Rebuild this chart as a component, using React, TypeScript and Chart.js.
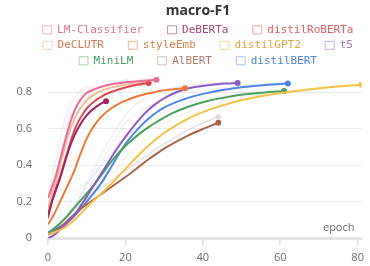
import React, { useEffect, useRef } from "react";
import { Chart, registerables } from "chart.js";

Chart.register(...registerables);

const chartTitle = "macro-F1";
const xAxisTitle = "epoch";
const xTickValues = [0, 20, 40, 60, 80];
const yTickValues = [0, 0.2, 0.4, 0.6, 0.8];

const seriesNames = ["LM-Classifier", "DeBERTa", "distilRoBERTa", "DeCLUTR", "styleEmb", "distilGPT2", "t5", "MiniLM", "AlBERT", "distilBERT"];
const lineColors = ["#ec6c96", "#a3245e", "#e1474f", "#f6bb9c", "#ef7a38", "#f3c246", "#8c5ac8", "#4ba25d", "#a8664f", "#4d85e8"];
const textColors = ["#e36f95", "#a8437a", "#dd5a62", "#d47a56", "#d9804a", "#e2a43a", "#9b74c8", "#4f9a61", "#a67b6a", "#4f82d9"];
const boxColors = ["#f2b3c8", "#c88aab", "#f0a6aa", "#f5d0c0", "#f0b88f", "#f5d990", "#c5b0e3", "#a6d3ae", "#d7bfb4", "#a9c4f2"];
const legendGap = "   ";

// smoothed series
const lmX = [0, 1, 2, 3, 4, 5, 6, 7, 8, 9, 10, 12, 14, 17, 20, 24, 28];
const lmY = [0.22, 0.28, 0.34, 0.42, 0.5, 0.58, 0.65, 0.705, 0.745, 0.775, 0.795, 0.815, 0.83, 0.845, 0.853, 0.86, 0.867];
const debertaX = [0, 1, 2, 3, 4, 5, 6, 7, 8, 9, 10, 11, 12, 13, 14, 15];
const debertaY = [0.13, 0.2, 0.26, 0.32, 0.39, 0.46, 0.52, 0.57, 0.61, 0.645, 0.672, 0.695, 0.712, 0.727, 0.74, 0.75];
const robertaX = [0, 1, 2, 3, 4, 5, 6, 7, 8, 9, 10, 12, 14, 17, 20, 23, 26];
const robertaY = [0.11, 0.2, 0.27, 0.33, 0.4, 0.47, 0.54, 0.6, 0.645, 0.68, 0.71, 0.75, 0.778, 0.805, 0.825, 0.84, 0.85];
const declutrX = [0, 1, 2, 3, 4, 5, 6, 7, 8, 10, 12, 14, 17, 20, 24];
const declutrY = [0.16, 0.24, 0.31, 0.39, 0.47, 0.55, 0.61, 0.66, 0.7, 0.755, 0.787, 0.808, 0.828, 0.84, 0.848];
const styleX = [0, 1, 2, 3, 4, 5, 6, 7, 8, 9, 10, 11, 12, 13, 14, 16, 18, 20, 22, 24, 26, 28, 30, 33, 35.4];
const styleY = [0.075, 0.11, 0.15, 0.195, 0.24, 0.285, 0.33, 0.38, 0.44, 0.495, 0.545, 0.585, 0.618, 0.646, 0.67, 0.706, 0.733, 0.753, 0.769, 0.782, 0.793, 0.802, 0.809, 0.816, 0.82];
const gpt2X = [0, 2, 4, 6, 8, 10, 12, 14, 16, 18, 20, 22, 24, 26, 28, 30, 32, 35, 38, 41, 44, 47, 50, 53, 56, 59, 62, 66, 70, 74, 78, 81];
const gpt2Y = [0.02, 0.035, 0.055, 0.085, 0.125, 0.17, 0.21, 0.25, 0.29, 0.335, 0.38, 0.425, 0.468, 0.508, 0.543, 0.576, 0.604, 0.641, 0.672, 0.698, 0.72, 0.739, 0.755, 0.769, 0.781, 0.791, 0.8, 0.81, 0.82, 0.829, 0.836, 0.84];
const t5X = [0, 1, 2, 3, 4, 5, 6, 7, 8, 9, 10, 12, 14, 16, 18, 20, 22, 24, 26, 28, 30, 32, 35, 38, 42, 46, 49];
const t5Y = [0, 0.01, 0.025, 0.045, 0.065, 0.085, 0.107, 0.133, 0.163, 0.195, 0.228, 0.295, 0.362, 0.43, 0.495, 0.555, 0.61, 0.66, 0.703, 0.738, 0.766, 0.788, 0.812, 0.827, 0.839, 0.846, 0.849];
const miniX = [0, 2, 4, 6, 8, 10, 12, 14, 16, 18, 20, 22, 24, 26, 28, 30, 32, 35, 38, 41, 44, 47, 50, 53, 56, 59, 61];
const miniY = [0.03, 0.06, 0.1, 0.148, 0.197, 0.245, 0.295, 0.352, 0.41, 0.462, 0.505, 0.543, 0.578, 0.608, 0.635, 0.66, 0.683, 0.71, 0.732, 0.75, 0.764, 0.775, 0.785, 0.792, 0.798, 0.803, 0.805];
const albertX = [0, 2, 4, 6, 8, 10, 12, 14, 16, 18, 20, 22, 24, 26, 28, 30, 32, 34, 36, 38, 40, 42, 44];
const albertY = [0.02, 0.04, 0.075, 0.115, 0.155, 0.185, 0.215, 0.245, 0.275, 0.305, 0.335, 0.367, 0.4, 0.432, 0.462, 0.49, 0.515, 0.538, 0.56, 0.58, 0.598, 0.615, 0.632];
const bertX = [0, 2, 4, 6, 8, 10, 12, 14, 16, 18, 20, 22, 24, 26, 28, 30, 32, 35, 38, 41, 44, 47, 50, 53, 56, 59, 62];
const bertY = [0.03, 0.05, 0.075, 0.105, 0.15, 0.2, 0.252, 0.31, 0.378, 0.45, 0.515, 0.568, 0.615, 0.655, 0.688, 0.714, 0.735, 0.76, 0.779, 0.794, 0.807, 0.817, 0.826, 0.833, 0.839, 0.843, 0.847];

// faint raw series
const lmRawX = [0, 1, 2, 3, 4, 5, 6, 7, 8, 9, 10, 11, 12, 14, 16, 18, 20, 22, 24, 26, 28];
const lmRawY = [0.25, 0.33, 0.42, 0.53, 0.62, 0.7, 0.74, 0.77, 0.8, 0.81, 0.83, 0.82, 0.84, 0.85, 0.86, 0.85, 0.87, 0.86, 0.87, 0.87, 0.87];
const robertaRawX = [0, 1, 2, 3, 4, 5, 6, 7, 8, 9, 10, 12, 14, 16, 18, 20, 22, 24, 26];
const robertaRawY = [0.13, 0.27, 0.35, 0.42, 0.52, 0.61, 0.68, 0.71, 0.74, 0.75, 0.77, 0.79, 0.81, 0.82, 0.83, 0.84, 0.845, 0.85, 0.855];
const bertRawX = [0, 2, 4, 6, 8, 10, 12, 14, 16, 18, 20, 22, 24, 26, 28, 30, 33, 36, 40, 44, 48, 52, 56, 62];
const bertRawY = [0.03, 0.06, 0.1, 0.14, 0.22, 0.29, 0.35, 0.42, 0.5, 0.57, 0.63, 0.67, 0.7, 0.72, 0.74, 0.76, 0.78, 0.8, 0.81, 0.82, 0.83, 0.84, 0.845, 0.85];
const t5RawX = [0, 2, 4, 6, 8, 10, 12, 14, 16, 18, 20, 22, 24, 26, 28, 30, 34, 38, 44, 49];
const t5RawY = [0, 0.03, 0.08, 0.14, 0.22, 0.3, 0.38, 0.46, 0.54, 0.61, 0.67, 0.72, 0.75, 0.78, 0.8, 0.815, 0.83, 0.84, 0.85, 0.85];
const miniRawX = [0, 4, 8, 12, 16, 20, 24, 28, 32, 36, 40, 45, 50, 55, 61];
const miniRawY = [0.04, 0.14, 0.26, 0.35, 0.46, 0.55, 0.62, 0.67, 0.71, 0.74, 0.76, 0.78, 0.795, 0.8, 0.81];
const gpt2RawX = [0, 5, 10, 15, 20, 25, 30, 35, 40, 45, 50, 55, 60, 65, 70, 75, 81];
const gpt2RawY = [0.03, 0.1, 0.22, 0.32, 0.44, 0.53, 0.62, 0.68, 0.72, 0.75, 0.77, 0.79, 0.8, 0.815, 0.825, 0.835, 0.84];
const albertRawX = [0, 4, 8, 12, 16, 20, 24, 28, 32, 36, 40, 44];
const albertRawY = [0.03, 0.1, 0.18, 0.25, 0.31, 0.37, 0.43, 0.49, 0.54, 0.59, 0.63, 0.665];

const mainXs = [lmX, debertaX, robertaX, declutrX, styleX, gpt2X, t5X, miniX, albertX, bertX];
const mainYs = [lmY, debertaY, robertaY, declutrY, styleY, gpt2Y, t5Y, miniY, albertY, bertY];
const rawXs = [lmRawX, robertaRawX, bertRawX, t5RawX, miniRawX, gpt2RawX, albertRawX];
const rawYs = [lmRawY, robertaRawY, bertRawY, t5RawY, miniRawY, gpt2RawY, albertRawY];
const rawColors = ["rgba(236,108,150,0.13)", "rgba(225,71,79,0.1)", "rgba(120,150,210,0.12)", "rgba(140,90,200,0.1)", "rgba(120,170,150,0.1)", "rgba(243,194,70,0.12)", "rgba(190,170,165,0.35)"];
const rawDots = [false, false, false, false, false, false, true];

const pairs = (xs: number[], ys: number[]) => xs.map((x, i) => ({ x, y: ys[i] }));

export default function App() {
  const ref = useRef<HTMLCanvasElement | null>(null);
  useEffect(() => {
    const canvas = ref.current!;
    const endRadius = (r: number) => (ctx: any) => (ctx.dataIndex === ctx.dataset.data.length - 1 ? r : 0);
    const mainSets = seriesNames.map((name, i) => ({
      label: name,
      data: pairs(mainXs[i], mainYs[i]),
      borderColor: lineColors[i],
      backgroundColor: lineColors[i],
      borderWidth: 2,
      pointRadius: endRadius(3),
      pointBorderWidth: 0,
      cubicInterpolationMode: "monotone" as const,
      fill: false,
    }));
    const rawSets = rawXs.map((xs, i) => ({
      label: "raw" + i,
      data: pairs(xs, rawYs[i]),
      borderColor: rawColors[i],
      backgroundColor: rawColors[i],
      borderWidth: 1.5,
      pointRadius: rawDots[i] ? endRadius(3) : 0,
      pointBorderWidth: 0,
      cubicInterpolationMode: "monotone" as const,
      fill: false,
    }));

    const legendFont = { family: '"DejaVu Sans Mono", monospace', size: 11 };
    const adjusted = new WeakSet<object>();
    const legendCenterPlugin = {
      id: "legendCenter",
      beforeDraw(chart: any) {
        const lg = chart.legend;
        if (!lg || !lg.lineWidths || adjusted.has(lg.lineWidths)) return;
        const c = chart.ctx;
        c.save();
        c.font = `${legendFont.size}px ${legendFont.family}`;
        const gapW = c.measureText(legendGap).width;
        c.restore();
        lg.lineWidths = lg.lineWidths.map((w: number) => w - gapW);
        adjusted.add(lg.lineWidths);
      },
    };

    const epochPlugin = {
      id: "epochLabel",
      afterDraw(chart: any) {
        const { ctx, chartArea } = chart;
        ctx.save();
        ctx.font = '11px "Open Sans"';
        ctx.fillStyle = "#6b6b76";
        ctx.textAlign = "right";
        ctx.textBaseline = "middle";
        ctx.fillText(xAxisTitle, chartArea.right - 7, chartArea.bottom - 10.5);
        ctx.restore();
      },
    };

    const chart = new Chart(canvas, {
      type: "line",
      data: { datasets: [...mainSets, ...rawSets] as any },
      plugins: [legendCenterPlugin, epochPlugin],
      options: {
        responsive: false,
        animation: false,
        layout: { padding: 0 },
        plugins: {
          tooltip: { enabled: false },
          title: {
            display: true,
            text: chartTitle,
            color: "#333",
            font: { family: '"Open Sans", sans-serif', size: 14, weight: "bold" },
            padding: { top: 3, bottom: 0 },
          },
          legend: {
            display: true,
            position: "top",
            labels: {
              font: legendFont,
              boxWidth: 9,
              boxHeight: 8,
              padding: 4.5,
              generateLabels: () =>
                seriesNames.map((name, i) => ({
                  text: name + legendGap,
                  fillStyle: "rgba(0,0,0,0)",
                  strokeStyle: boxColors[i],
                  fontColor: textColors[i],
                  lineWidth: 1,
                  hidden: false,
                  datasetIndex: i,
                })),
            },
          },
        },
        scales: {
          x: {
            type: "linear",
            min: 0,
            max: 81,
            afterBuildTicks: (s: any) => {
              s.ticks = xTickValues.map((v) => ({ value: v }));
            },
            afterFit: (s: any) => {
              s.height = 27.7;
            },
            grid: { drawOnChartArea: false, drawTicks: true, tickLength: 7, color: "#dedede", lineWidth: 1.5 },
            border: { display: true, color: "#e4e4e4", width: 3 },
            ticks: { color: "#6b6b76", font: { family: '"Open Sans", sans-serif', size: 11 }, padding: 6, maxRotation: 0 },
          },
          y: {
            type: "linear",
            min: 0,
            max: 0.886,
            afterBuildTicks: (s: any) => {
              s.ticks = yTickValues.map((v) => ({ value: v }));
            },
            afterFit: (s: any) => {
              s.width = 48;
            },
            grid: { drawTicks: false, color: "#ececec", lineWidth: 1 },
            border: { display: false },
            ticks: { color: "#6b6b76", font: { family: '"Open Sans", sans-serif', size: 11 }, padding: 16 },
          },
          yRight: {
            type: "linear",
            position: "right",
            display: true,
            afterFit: (s: any) => {
              s.width = 34.5;
            },
            grid: { display: false, drawTicks: false },
            border: { display: false },
            ticks: { display: false },
          },
        },
      },
    } as any);
    return () => chart.destroy();
  }, []);

  return (
    <div style={{ position: "fixed", left: 0, top: 0, width: 370, height: 266, overflow: "hidden", background: "#fff" }}>
      <canvas ref={ref} width={396} height={266} style={{ width: 396, height: 266, display: "block" }} />
    </div>
  );
}
